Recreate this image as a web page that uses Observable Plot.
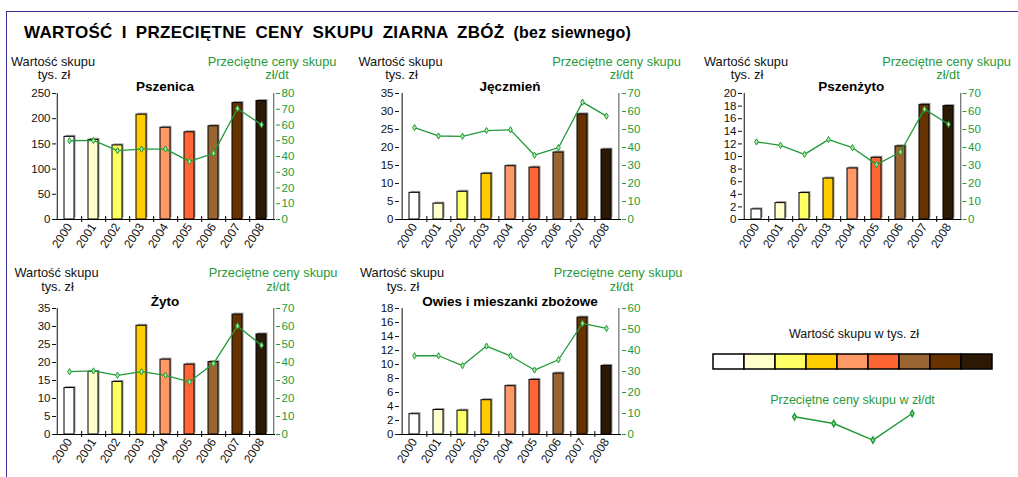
<!DOCTYPE html>
<html><head><meta charset="utf-8">
<script src="https://cdn.jsdelivr.net/npm/d3@7"></script>
<script src="https://cdn.jsdelivr.net/npm/@observablehq/plot@0.6"></script>
<style>
body{margin:0;background:#fff;font-family:"Liberation Sans",Arial,sans-serif;}
#page{position:relative;width:1018px;height:477px;overflow:hidden;background:#fff}
.t{position:absolute;white-space:nowrap;transform:translate(-50%,-50%);line-height:1;color:#111}
.g{color:#2a9a3a}
.b{font-weight:bold}
svg.p{position:absolute}
</style></head><body><div id="page"></div>
<script>
// ---- data ----
const years = ["2000","2001","2002","2003","2004","2005","2006","2007","2008"];
const barColors = ["#FFFFFF","#FFFFCC","#FFFF66","#FFCC00","#FF9966","#FF6633","#996633","#663300","#2B1905"];

const pszenicaValue = [164,158,147,208,182,173,185,231,235];
const pszenicaPrice = [50.0,50.2,43.7,44.7,44.7,36.9,42.0,70.5,60.2];
const jeczmienValue = [7.4,4.4,7.7,12.7,14.8,14.4,18.6,29.2,19.4];
const jeczmienPrice = [51.1,46.4,46.2,49.4,49.8,35.7,39.9,65.2,57.4];
const pszenzytoValue = [1.6,2.6,4.2,6.5,8.1,9.8,11.6,18.2,18.0];
const pszenzytoPrice = [43.1,41.2,36.2,44.4,39.9,30.5,37.5,61.3,52.9];
const zytoValue = [12.9,17.4,14.6,30.2,20.8,19.4,20.1,33.3,27.8];
const zytoPrice = [34.9,35.3,32.9,34.9,32.9,29.3,39.4,60.3,49.6];
const owiesValue = [2.9,3.5,3.4,4.9,6.9,7.8,8.7,16.7,9.8];
const owiesPrice = [37.5,37.5,32.8,42.1,37.4,30.7,35.6,52.9,50.5];

const legendSample = [2.28,1.62,0,2.6];

const titleText = "WARTOŚĆ I PRZECIĘTNE CENY SKUPU ZIARNA ZBÓŻ";
const titleSub = "(bez siewnego)";
const leftHead = ["Wartość skupu","tys. zł"];
const rightHead = ["Przeciętne ceny skupu","zł/dt"];

const GREEN = "#229a38";
const page = document.getElementById("page");

function txt(s, x, y, cls, style) {
  const d = document.createElement("div");
  d.className = "t " + (cls||"");
  d.textContent = s;
  d.style.left = x + "px"; d.style.top = y + "px";
  if (style) Object.assign(d.style, style);
  page.appendChild(d);
  return d;
}

// frame
const fr = document.createElement("div");
Object.assign(fr.style,{position:"absolute",left:"6px",top:"11px",width:"1030px",height:"480px",borderTop:"1.5px solid #33338f",borderLeft:"1.5px solid #33338f"});
page.appendChild(fr);

// main title
const tt = document.createElement("div");
Object.assign(tt.style,{position:"absolute",left:"24px",top:"23px",fontSize:"17px",fontWeight:"bold",whiteSpace:"nowrap",wordSpacing:"4px",letterSpacing:"0.3px",color:"#000",lineHeight:"19px"});
tt.innerHTML = titleText + " <span style='font-size:16px;letter-spacing:0.2px;word-spacing:0'>" + titleSub + "</span>";
page.appendChild(tt);

const panels = [
 {name:"Pszenica", values:pszenicaValue, prices:pszenicaPrice, leftMax:250, leftStep:50, rightMax:80, rightStep:10, L:55.5, R:274.5, T:93, B:219, hl:53, hr:272, hr2:277, hy:[61.5,75,86.5]},
 {name:"Jęczmień", values:jeczmienValue, prices:jeczmienPrice, leftMax:35, leftStep:5, rightMax:70, rightStep:10, L:399, R:621, T:93, B:219, hl:400.5, hr:616.5, hr2:621.5, hy:[61.5,75,86.5]},
 {name:"Pszenżyto", values:pszenzytoValue, prices:pszenzytoPrice, leftMax:20, leftStep:2, rightMax:70, rightStep:10, L:741.5, R:961, T:93, B:219, hl:746, hr:946.5, hr2:948, hy:[61.5,75,86.5]},
 {name:"Żyto", values:zytoValue, prices:zytoPrice, leftMax:35, leftStep:5, rightMax:70, rightStep:10, L:55.5, R:274.5, T:308, B:434, hl:56.5, hr:273, hr2:278, hy:[272.5,286.5,301.5]},
 {name:"Owies i mieszanki zbożowe", values:owiesValue, prices:owiesPrice, leftMax:18, leftStep:2, rightMax:60, rightStep:10, L:399, R:621, T:308, B:434, hl:402, hr:618, hr2:621.5, hy:[272.5,286.5,301.5]}
];

for (const p of panels) {
  const mL = 45, mR = 35, mT = 12, mB = 40;
  const fw = p.R - p.L, fh = p.B - p.T;
  const step = fw / 9;
  const k = p.leftMax / p.rightMax;
  const data = years.map((yr,i) => ({year:yr, value:p.values[i], price:p.prices[i]*k, color:barColors[i]}));
  const leftTicks = d3.range(0, p.leftMax + 1e-9, p.leftStep);
  const rightTicks = d3.range(0, p.rightMax + 1e-9, p.rightStep).map(t => t*k);
  const tk = p.leftMax * 3 / fh;
  const svg = Plot.plot({
    width: fw + mL + mR, height: fh + mT + mB,
    marginLeft: mL, marginRight: mR, marginTop: mT, marginBottom: mB,
    x: {domain: years, paddingInner: 0.58, paddingOuter: 0.29},
    y: {domain: [0, p.leftMax]},
    style: {fontFamily: "'Liberation Sans', Arial, sans-serif", fontSize: "11.5px", background: "transparent", overflow: "visible", color:"#111"},
    marks: [
      Plot.barY(data, {x:"year", y:"value", fill:"#9a9a9a", dx:1.5, dy:-1.5}),
      Plot.barY(data, {x:"year", y:"value", fill:"color", stroke:"#000", strokeWidth:1}),
      Plot.ruleX(data.slice(0,8), {x:"year", y1:-tk, y2:tk, dx:step/2, stroke:"#000"}),
      Plot.ruleX([years[0]], {x:d=>d, dx:-step/2, stroke:"#444", strokeWidth:1.3}),
      Plot.ruleX([years[8]], {x:d=>d, dx:step/2, stroke:"#777", strokeWidth:1.3}),
      Plot.ruleY([0], {stroke:"#000", strokeWidth:1.2}),
      Plot.line(data, {x:"year", y:"price", stroke:GREEN, strokeWidth:1.3}),
      Plot.dot(data, {x:"year", y:"price", symbol:"diamond", r:1.9, fill:"#a8eea8", stroke:GREEN, strokeWidth:1}),
      Plot.axisY(leftTicks, {anchor:"left", tickSize:4, tickPadding:2, fontSize:11.5, tickFormat:d=>d}),
      Plot.axisY(rightTicks, {anchor:"right", tickSize:4, tickPadding:2, fontSize:11.5, color:GREEN, tickFormat:d=>Math.round(d/k)}),
      Plot.axisX({tickSize:0, tickRotate:-57, tickPadding:5, fontSize:12, label:null})
    ]
  });
  svg.classList.add("p");
  svg.style.left = (p.L - mL) + "px";
  svg.style.top = (p.T - mT) + "px";
  page.appendChild(svg);

  txt(leftHead[0], p.hl, p.hy[0], "", {fontSize:"12.8px"});
  txt(leftHead[1], p.hl + 1, p.hy[1], "", {fontSize:"12.8px"});
  txt(rightHead[0], p.hr, p.hy[0], "g", {fontSize:"12.8px"});
  txt(rightHead[1], p.hr2, p.hy[1], "g", {fontSize:"12.8px"});
  txt(p.name, (p.L + p.R)/2, p.hy[2], "b", {fontSize:"13.5px", color:"#000"});
}

// legend: color bar
txt("Wartość skupu w tys. zł", 854, 334, "", {fontSize:"12.5px"});
const cb = Plot.plot({
  width: 290, height: 19, marginLeft:2, marginRight:2, marginTop:2, marginBottom:2,
  x: {domain: years, padding: 0, axis: null},
  style: {background:"transparent", overflow:"visible"},
  marks: [Plot.cell(years.map((y,i)=>({year:y,color:barColors[i]})), {x:"year", fill:"color", stroke:"#000", strokeWidth:1.5})]
});
cb.classList.add("p"); cb.style.left = "707px"; cb.style.top = "352px";
page.appendChild(cb);

txt("Przeciętne ceny skupu w zł/dt", 852.5, 400, "g", {fontSize:"12.5px"});
const ls = Plot.plot({
  width: 137.7, height: 46.6, marginLeft:10, marginRight:10, marginTop:10, marginBottom:10,
  x: {domain:[0,3], axis:null}, y: {domain:[0,2.6], axis:null},
  style: {background:"transparent", overflow:"visible"},
  marks: [
    Plot.line(legendSample, {x:(d,i)=>i, y:d=>d, stroke:GREEN, strokeWidth:1.5}),
    Plot.dot(legendSample, {x:(d,i)=>i, y:d=>d, symbol:"diamond", r:1.9, fill:"#a8eea8", stroke:GREEN})
  ]
});
ls.classList.add("p"); ls.style.left = "784px"; ls.style.top = "402.7px";
page.appendChild(ls);
</script></body></html>
